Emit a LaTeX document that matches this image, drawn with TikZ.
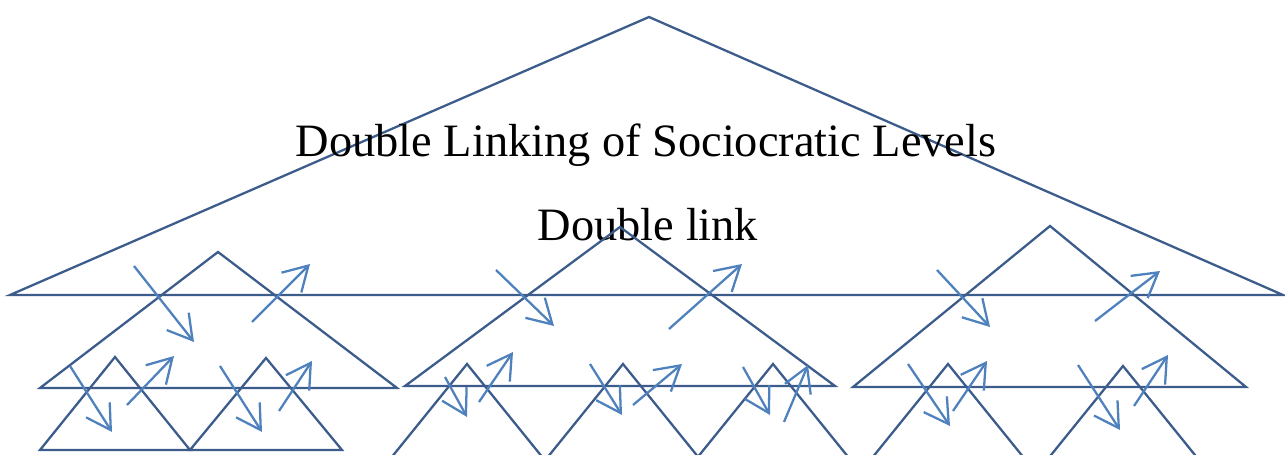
\documentclass[tikz,border=0pt]{standalone}
\usepackage{fontspec}
\setmainfont{Liberation Serif}
\usetikzlibrary{arrows.meta}
\definecolor{treeblue}{RGB}{60,92,140}
\definecolor{linkblue}{RGB}{79,129,189}

\begin{document}
\begin{tikzpicture}[x=0.02cm, y=-0.02cm,
    tri/.style={draw=treeblue, line width=1.3pt},
    link/.style={draw=linkblue, line width=1.3pt, -{Straight Barb[length=0.48cm, width=0.56cm]}},
    lbl/.style={font=\fontsize{26.4}{30}\selectfont, anchor=base, inner sep=0pt}]
    \clip (0,0) rectangle (1285,455);

    % top circle
    \draw[tri] (10,295) -- (649,17) -- (1283,295) -- cycle;
    \node[lbl] (title) at (646,157) {Double Linking of Sociocratic Levels};
    \node[lbl] (dlink) at (648,241) {Double link};

    % department circles
    \draw[tri] (40,388) -- (218,252) -- (397,388) -- cycle;
    \draw[tri] (405,386) -- (620,227) -- (835,386) -- cycle;
    \draw[tri] (853,387) -- (1050,226) -- (1246,387) -- cycle;

    % unit circles
    \draw[tri] (40,450) -- (115,357) -- (190,450) -- cycle;
    \draw[tri] (190,450) -- (266,358) -- (342,450) -- cycle;
    \draw[tri] (391,458) -- (467,364) -- (543,458) -- cycle;
    \draw[tri] (547,458) -- (623,364) -- (699,458) -- cycle;
    \draw[tri] (697,458) -- (773,364) -- (849,458) -- cycle;
    \draw[tri] (872,458) -- (948,364) -- (1024,458) -- cycle;
    \draw[tri] (1047,460) -- (1123,366) -- (1199,460) -- cycle;

    % double links, top level
    \draw[link] (134,266) -- (194,342);
    \draw[link] (252,322) -- (310,264);
    \draw[link] (496,270) -- (554,326);
    \draw[link] (669,329) -- (742,264);
    \draw[link] (937,270) -- (990,327);
    \draw[link] (1095,321) -- (1160,271);

    % double links, department level
    \draw[link] (70,366) -- (112,432);
    \draw[link] (127,405) -- (174,356);
    \draw[link] (220,366) -- (262,432);
    \draw[link] (279,411) -- (312,361);
    \draw[link] (445,377) -- (467,417);
    \draw[link] (479,402) -- (513,352);
    \draw[link] (590,364) -- (622,415);
    \draw[link] (633,405) -- (682,364);
    \draw[link] (743,367) -- (770,415);
    \draw[link] (784,422) -- (808,365);
    \draw[link] (908,364) -- (950,426);
    \draw[link] (953,411) -- (987,361);
    \draw[link] (1078,365) -- (1120,430);
    \draw[link] (1134,406) -- (1168,355);
\end{tikzpicture}
\end{document}
